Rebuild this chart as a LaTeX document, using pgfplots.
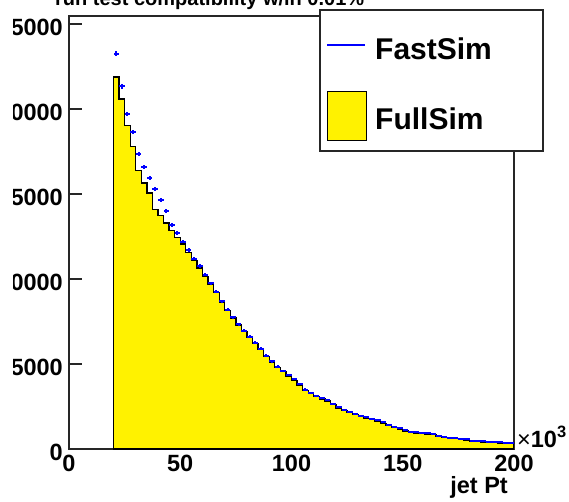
\documentclass[border=0pt]{standalone}
\usepackage{pgfplots}
\pgfplotsset{compat=1.18}
\usepackage{pgfplotstable}
\usepackage{fontspec}
\setmainfont{Liberation Sans}

% FullSim: left bin edge and content (last row closes the last bin at 200)
\pgfplotstableread{
x y
20 21880
22.5 20580
25 19010
27.5 17780
30 16400
32.5 15640
35 15050
37.5 14100
40 13750
42.5 13300
45 12850
47.5 12450
50 12050
52.5 11550
55 11100
57.5 10650
60 10150
62.5 9700
65 9200
67.5 8650
70 8150
72.5 7700
75 7300
77.5 6900
80 6550
82.5 6200
85 5850
87.5 5450
90 5100
92.5 4800
95 4550
97.5 4300
100 4050
102.5 3750
105 3450
107.5 3250
110 3080
112.5 2950
115 2830
117.5 2600
120 2400
122.5 2250
125 2130
127.5 2010
130 1900
132.5 1810
135 1730
137.5 1630
140 1510
142.5 1390
145 1270
147.5 1160
150 1060
152.5 970
155 930
157.5 900
160 870
162.5 840
165 740
167.5 660
170 630
172.5 600
175 560
177.5 530
180 460
182.5 430
185 410
187.5 390
190 370
192.5 350
195 330
197.5 310
200 310
}\fullsim

% FastSim: bin centre and content
\pgfplotstableread{
x y
21.25 23250
23.75 21340
26.25 19700
28.75 18640
31.25 17350
33.75 16580
36.25 15930
38.75 15300
41.25 14640
43.75 14000
46.25 13200
48.75 12700
51.25 12200
53.75 11700
56.25 11200
58.75 10750
61.25 10250
63.75 9750
66.25 9250
68.75 8700
71.25 8200
73.75 7750
76.25 7350
78.75 6950
81.25 6600
83.75 6250
86.25 5900
88.75 5500
91.25 5150
93.75 4850
96.25 4600
98.75 4350
101.25 4100
103.75 3800
106.25 3500
108.75 3280
111.25 3120
113.75 3000
116.25 2880
118.75 2650
121.25 2450
123.75 2300
126.25 2180
128.75 2060
131.25 1950
133.75 1860
136.25 1780
138.75 1680
141.25 1560
143.75 1440
146.25 1320
148.75 1210
151.25 1110
153.75 1010
156.25 980
158.75 950
161.25 930
163.75 900
166.25 780
168.75 700
171.25 670
173.75 640
176.25 600
178.75 570
181.25 500
183.75 470
186.25 450
188.75 430
191.25 410
193.75 390
196.25 370
198.75 350
}\fastsim

\begin{document}
\begin{tikzpicture}
\begin{axis}[
  at={(0pt,0pt)}, anchor=south west,
  scale only axis, width=445pt, height=433pt,
  xmin=0, xmax=200, ymin=0, ymax=25470,
  xtick={0,50,100,150,200}, xticklabels={0,50,100,150,200},
  ytick={0,5000,10000,15000,20000,25000},
  yticklabels={0,5000,10000,15000,20000,25000},
  scaled ticks=false,
  tick align=inside, major tick length=13pt,
  ytick pos=left, xtick pos=bottom,
  xtick style={draw=none},
  ytick style={line width=1.2pt, black!85},
  minor tick num=0,
  axis line style={line width=1.3pt, black!85},
  ticklabel style={font=\fontsize{23.5}{28}\selectfont\bfseries},
  yticklabel style={inner xsep=0pt, xshift=-6pt, yshift=-3pt},
  xticklabel style={inner ysep=0pt, yshift=-6pt},
  xlabel={jet Pt},
  xlabel style={at={(rel axis cs:0.9865,0)}, anchor=base east, yshift=-44pt,
    inner sep=0pt, font=\fontsize{23.5}{28}\selectfont\bfseries},
]
\addplot[const plot, fill=yellow, draw=black, line width=1.3pt]
  table[x=x, y=y]{\fullsim} \closedcycle;
\addplot[draw=none, mark=none,
  error bars/.cd, x dir=both, x fixed=1.25, y dir=both, y explicit,
  error mark=none, error bar style={draw=blue, line width=2pt, solid}]
  table[x=x, y=y, y error expr={sqrt(\thisrow{y})}]{\fastsim};
\end{axis}
% the pad edge of the original hides the leading digit of the y labels
\fill[white] (-70pt,-10pt) rectangle (-56.3pt,449pt);
% axis multiplier
\node[anchor=base west, inner sep=0pt, font=\fontsize{23.5}{28}\selectfont]
  at (448pt,2pt) {×\textbf{10}\textsuperscript{\textbf{3}}};
% title (mostly outside the picture)
\node[anchor=base west, inner sep=0pt, font=\fontsize{20}{24}\selectfont\bfseries]
  at (-14pt,443pt) {run test compatibility w/in 0.01\%};
% legend
\draw[black!85, line width=1.2pt, fill=white] (251pt,439pt) rectangle (474pt,298pt);
\draw[blue, line width=2pt] (258pt,404pt) -- (296pt,404pt);
\node[anchor=base west, inner sep=0pt, font=\fontsize{30}{36}\selectfont\bfseries]
  at (306pt,389pt) {FastSim};
\draw[black, line width=1pt, fill=yellow] (258pt,357pt) rectangle (297pt,308pt);
\node[anchor=base west, inner sep=0pt, font=\fontsize{30}{36}\selectfont\bfseries]
  at (306pt,319pt) {FullSim};
\pgfresetboundingbox
\path (-69pt,-52pt) rectangle (500pt,449pt);
\end{tikzpicture}
\end{document}
